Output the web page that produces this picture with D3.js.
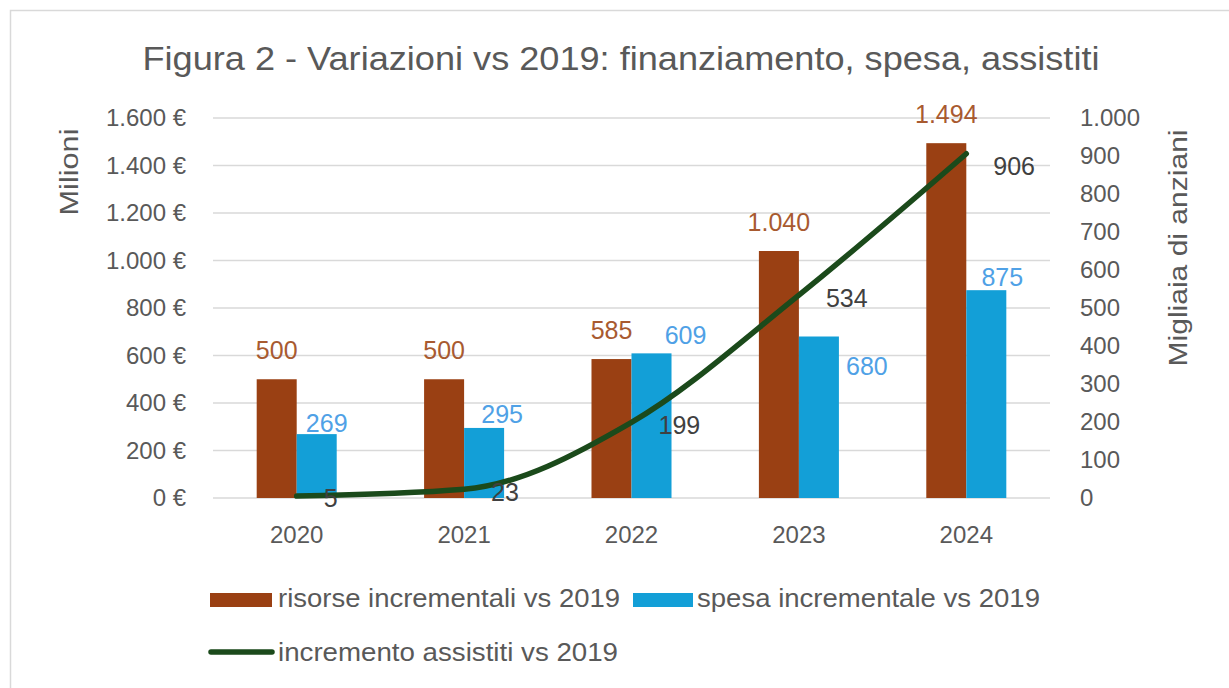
<!DOCTYPE html>
<html>
<head>
<meta charset="utf-8">
<script src="https://cdn.jsdelivr.net/npm/d3@7"></script>
<style>
  html, body { margin: 0; padding: 0; background: #fff; }
  svg { display: block; font-family: "Liberation Sans", Arial, sans-serif; }
</style>
</head>
<body>
<svg id="chart" width="1229" height="688"></svg>
<script>
// ---- data ----
const categories = ["2020", "2021", "2022", "2023", "2024"];
const risorse = [500, 500, 585, 1040, 1494];      // milioni €
const spesa = [269, 295, 609, 680, 875];          // milioni €
const assistiti = [5, 23, 199, 534, 906];         // migliaia di anziani
const leftTicks = [0, 200, 400, 600, 800, 1000, 1200, 1400, 1600];
const rightTicks = [0, 100, 200, 300, 400, 500, 600, 700, 800, 900, 1000];
const seriesNames = ["risorse incrementali vs 2019", "spesa incrementale vs 2019", "incremento assistiti vs 2019"];
const titleText = "Figura 2 - Variazioni vs 2019: finanziamento, spesa, assistiti";
const leftTitle = "Milioni";
const rightTitle = "Migliaia di anziani";

// label nudges (layout, as placed in the original)
const spesaLabelNudgeX = [10, 18, 34, 48, 16];
const spesaLabelNudgeY = [-11, -14, -18, 30, -13];
const assistitiLabelNudgeY = [2, 3, 3, 3, 13];

// ---- style ----
const C = {
  brown: "#9a4013", brownLabel: "#a85a30",
  blue: "#139fd7", blueLabel: "#4fa1e6",
  green: "#1b4a1b", lineLabel: "#404040",
  text: "#595959", grid: "#d9d9d9"
};

const it = d3.formatLocale({ decimal: ",", thousands: ".", grouping: [3], currency: ["", " €"] });
const fmt = it.format(",d");

const svg = d3.select("#chart");

// chart border
svg.append("rect").attr("x", 10.5).attr("y", 10.5).attr("width", 1240).attr("height", 700)
  .attr("fill", "none").attr("stroke", "#d9d9d9").attr("stroke-width", 1.5);

const plot = { left: 213, right: 1050, top: 118, bottom: 498 };

const x = d3.scaleBand().domain(categories).range([plot.left, plot.right]).padding(0);
const yL = d3.scaleLinear().domain([0, 1600]).range([plot.bottom, plot.top]);
const yR = d3.scaleLinear().domain([0, 1000]).range([plot.bottom, plot.top]);
const barW = x.bandwidth() * 0.239;
const cx = d => x(d) + x.bandwidth() / 2;

// title
svg.append("text").attr("x", 621).attr("y", 70).attr("text-anchor", "middle")
  .attr("font-size", 34).attr("fill", C.text)
  .attr("textLength", 957).attr("lengthAdjust", "spacingAndGlyphs")
  .text(titleText);

// gridlines
svg.append("g").selectAll("line").data(leftTicks).join("line")
  .attr("x1", plot.left).attr("x2", plot.right)
  .attr("y1", d => yL(d)).attr("y2", d => yL(d))
  .attr("stroke", C.grid).attr("stroke-width", 1.5);

// left axis
const axL = svg.append("g").attr("transform", `translate(${plot.left},0)`)
  .call(d3.axisLeft(yL).tickValues(leftTicks).tickSize(0).tickPadding(27)
    .tickFormat(d => fmt(d) + " €"));
axL.select(".domain").remove();
axL.selectAll("text").attr("font-size", 24).attr("fill", C.text)
  .attr("font-family", "Liberation Sans, Arial, sans-serif");

// right axis
const axR = svg.append("g").attr("transform", `translate(${plot.right},0)`)
  .call(d3.axisRight(yR).tickValues(rightTicks).tickSize(0).tickPadding(30)
    .tickFormat(d => fmt(d)));
axR.select(".domain").remove();
axR.selectAll("text").attr("font-size", 24).attr("fill", C.text)
  .attr("font-family", "Liberation Sans, Arial, sans-serif");

// x axis
const axX = svg.append("g").attr("transform", `translate(0,${plot.bottom})`)
  .call(d3.axisBottom(x).tickSize(0).tickPadding(28));
axX.select(".domain").remove();
axX.selectAll("text").attr("font-size", 24).attr("fill", C.text)
  .attr("font-family", "Liberation Sans, Arial, sans-serif");

// axis titles
svg.append("text").attr("transform", "translate(78,172) rotate(-90)")
  .attr("text-anchor", "middle").attr("font-size", 25).attr("fill", C.text)
  .attr("textLength", 87).attr("lengthAdjust", "spacingAndGlyphs")
  .text(leftTitle);
svg.append("text").attr("transform", "translate(1187,248) rotate(-90)")
  .attr("text-anchor", "middle").attr("font-size", 25).attr("fill", C.text)
  .attr("textLength", 237).attr("lengthAdjust", "spacingAndGlyphs")
  .text(rightTitle);

// bars
svg.append("g").selectAll("rect").data(categories).join("rect")
  .attr("x", d => cx(d) - barW).attr("width", barW)
  .attr("y", (d, i) => yL(risorse[i])).attr("height", (d, i) => plot.bottom - yL(risorse[i]))
  .attr("fill", C.brown);
svg.append("g").selectAll("rect").data(categories).join("rect")
  .attr("x", d => cx(d)).attr("width", barW)
  .attr("y", (d, i) => yL(spesa[i])).attr("height", (d, i) => plot.bottom - yL(spesa[i]))
  .attr("fill", C.blue);

// line
const linePts = categories.map((c, i) => [cx(c), yR(assistiti[i])]);
svg.append("path").datum(linePts)
  .attr("d", d3.line().curve(d3.curveMonotoneX))
  .attr("fill", "none").attr("stroke", C.green).attr("stroke-width", 5.5)
  .attr("stroke-linecap", "round").attr("stroke-linejoin", "round");

// data labels
svg.append("g").selectAll("text").data(categories).join("text")
  .attr("x", d => cx(d) - barW / 2)
  .attr("y", (d, i) => yL(risorse[i]) - 29).attr("dy", "0.35em")
  .attr("text-anchor", "middle").attr("font-size", 25).attr("fill", C.brownLabel)
  .text((d, i) => fmt(risorse[i]));
svg.append("g").selectAll("text").data(categories).join("text")
  .attr("x", (d, i) => cx(d) + barW / 2 + spesaLabelNudgeX[i])
  .attr("y", (d, i) => yL(spesa[i]) + spesaLabelNudgeY[i]).attr("dy", "0.35em")
  .attr("text-anchor", "middle").attr("font-size", 25).attr("fill", C.blueLabel)
  .text((d, i) => fmt(spesa[i]));
svg.append("g").selectAll("text").data(categories).join("text")
  .attr("x", d => cx(d) + 27)
  .attr("y", (d, i) => yR(assistiti[i]) + assistitiLabelNudgeY[i]).attr("dy", "0.35em")
  .attr("text-anchor", "start").attr("font-size", 25).attr("fill", C.lineLabel)
  .text((d, i) => fmt(assistiti[i]));

// legend
const lg = svg.append("g");
lg.append("rect").attr("x", 210).attr("y", 593).attr("width", 62).attr("height", 14).attr("fill", C.brown);
lg.append("text").attr("x", 278).attr("y", 607).attr("font-size", 25).attr("fill", C.text)
  .attr("textLength", 342).attr("lengthAdjust", "spacingAndGlyphs").text(seriesNames[0]);
lg.append("rect").attr("x", 633).attr("y", 593).attr("width", 60).attr("height", 14).attr("fill", C.blue);
lg.append("text").attr("x", 697).attr("y", 607).attr("font-size", 25).attr("fill", C.text)
  .attr("textLength", 343).attr("lengthAdjust", "spacingAndGlyphs").text(seriesNames[1]);
lg.append("line").attr("x1", 211).attr("x2", 272).attr("y1", 652).attr("y2", 652)
  .attr("stroke", C.green).attr("stroke-width", 5.5).attr("stroke-linecap", "round");
lg.append("text").attr("x", 278).attr("y", 661).attr("font-size", 25).attr("fill", C.text)
  .attr("textLength", 340).attr("lengthAdjust", "spacingAndGlyphs").text(seriesNames[2]);
</script>
</body>
</html>
